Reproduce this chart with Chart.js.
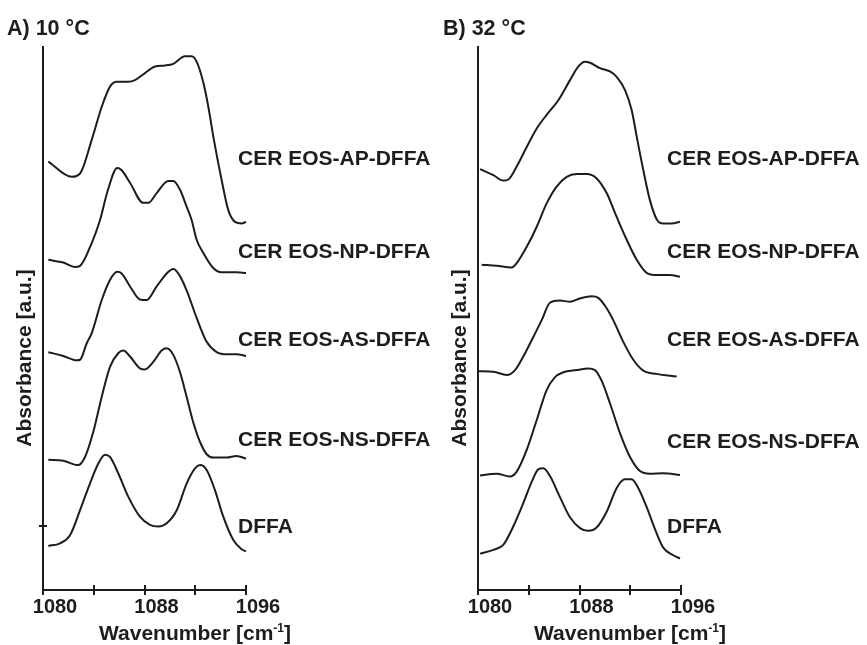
<!DOCTYPE html>
<html lang="en">
<head>
<meta charset="UTF-8">
<title>FTIR CH2 scissoring bands, 10 °C and 32 °C</title>
<script src="https://cdn.jsdelivr.net/npm/chart.js"></script>
<style>
  body { margin: 0; background: #fff; }
  canvas { position: absolute; top: 0; }
  #panelA { left: 0; }
  #panelB { left: 435px; }
</style>
</head>
<body>
<canvas id="panelA" width="440" height="645"></canvas>
<canvas id="panelB" width="432" height="645"></canvas>
<script>
// ---- data (wavenumber cm-1, stacked absorbance in a.u.) ----
const seriesNames = ['CER EOS-AP-DFFA', 'CER EOS-NP-DFFA', 'CER EOS-AS-DFFA', 'CER EOS-NS-DFFA', 'DFFA'];
const xTickValues = [1080, 1084, 1088, 1092, 1096];
const xTickLabels = ['1080', '', '1088', '', '1096'];

// panel A, 10 °C
const apA = [[1080.42,78.9],[1082.26,76.1],[1082.92,76.7],[1083.84,82.9],[1084.63,89.0],[1085.28,92.7],[1085.81,93.6],[1086.72,93.6],[1087.25,93.9],[1088.04,95.2],[1088.83,96.4],[1089.61,96.6],[1090.27,96.9],[1091.19,98.3],[1091.72,98.3],[1092.11,97.3],[1092.63,93.5],[1093.03,89.0],[1093.47,82.9],[1094.08,75.5],[1094.6,70.0],[1095.13,67.8],[1095.66,67.5],[1096,67.8]];
const npA = [[1080.42,60.8],[1081.6,60.3],[1082.52,59.5],[1082.92,59.7],[1083.84,63.9],[1084.49,68.1],[1085.12,73.7],[1085.85,77.7],[1086.2,77.3],[1086.86,75.0],[1087.9,71.3],[1088.3,71.3],[1088.96,73.1],[1089.87,75.3],[1090.27,75.3],[1090.8,73.7],[1091.32,70.6],[1091.72,68.1],[1092.11,64.5],[1092.63,62.1],[1093.42,59.3],[1094.08,58.5],[1095.26,58.5],[1096,58.4]];
const asA = [[1080.42,43.8],[1081.6,43.1],[1082.66,42.3],[1082.92,42.4],[1083.44,45.4],[1083.84,47.3],[1084.63,53.4],[1085.28,57.1],[1085.85,58.6],[1086.2,58.3],[1086.86,55.9],[1087.64,53.5],[1088.17,53.4],[1088.96,55.9],[1089.75,58.3],[1090.27,59.1],[1090.66,58.3],[1091.32,55.2],[1092.11,50.1],[1092.9,45.7],[1093.69,43.8],[1094.48,43.4],[1095.26,43.4],[1096,43.1]];
const nsA = [[1080.42,24.0],[1081.6,23.8],[1082.78,23.0],[1083.31,24.5],[1083.96,29.1],[1084.63,35.6],[1085.28,41.1],[1085.93,43.6],[1086.33,44.1],[1086.86,43.0],[1087.64,40.8],[1088.04,40.6],[1088.69,42.0],[1089.35,44.1],[1089.75,44.5],[1090.27,43.3],[1090.8,40.1],[1091.32,35.6],[1091.84,30.9],[1092.37,27.3],[1092.9,25.0],[1093.42,24.4],[1094.48,24.4],[1095.26,24.7],[1096,24.2]];
const dffaA = [[1080.42,8.1],[1081.34,8.6],[1082.13,10.1],[1082.92,14.7],[1083.7,19.6],[1084.36,23.3],[1084.89,24.9],[1085.28,24.5],[1085.93,21.5],[1086.72,17.2],[1087.64,13.5],[1088.43,12.0],[1089.09,11.7],[1089.75,12.3],[1090.54,14.7],[1091.32,19.6],[1091.98,22.4],[1092.37,23.0],[1092.9,22.1],[1093.55,18.4],[1094.21,13.5],[1095.0,9.2],[1095.66,7.5],[1096,7.1]];

// panel B, 32 °C
const apB = [[1080.16,77.5],[1081.21,76.4],[1081.99,75.4],[1082.39,75.6],[1083.05,78.0],[1083.84,81.6],[1084.63,85.0],[1085.41,87.5],[1086.33,90.2],[1087.25,93.9],[1087.9,96.4],[1088.43,97.3],[1088.83,97.1],[1089.61,96.1],[1090.4,95.5],[1090.93,94.5],[1091.58,92.1],[1092.11,88.4],[1092.51,83.5],[1093.03,77.3],[1093.55,71.8],[1094.08,68.3],[1094.6,67.5],[1095.26,67.5],[1095.92,67.8]];
const npB = [[1080.29,59.9],[1081.47,59.7],[1082.66,59.4],[1083.05,60.2],[1083.84,63.2],[1084.63,66.9],[1085.41,71.2],[1086.2,74.3],[1086.99,76.1],[1087.78,76.6],[1088.57,76.6],[1089.35,75.8],[1090.14,73.1],[1090.93,68.7],[1091.72,64.5],[1092.51,60.8],[1093.29,58.4],[1094.08,58.0],[1095.13,58.0],[1095.92,57.7]];
const asB = [[1080.02,40.3],[1081.21,40.2],[1082.26,39.6],[1082.92,40.5],[1083.57,43.0],[1084.36,46.6],[1085.02,49.7],[1085.67,52.9],[1086.46,53.3],[1087.25,53.1],[1088.04,53.7],[1088.96,54.1],[1089.48,53.8],[1090.14,51.9],[1090.66,49.7],[1091.45,45.7],[1092.24,42.4],[1093.03,40.4],[1094.08,39.8],[1095.66,39.3]];
const nsB = [[1080.16,21.1],[1081.47,21.4],[1082.52,20.9],[1083.05,21.8],[1083.84,25.8],[1084.63,31.3],[1085.41,36.8],[1086.07,39.2],[1086.72,40.1],[1087.78,40.5],[1088.69,40.8],[1089.22,40.5],[1089.75,38.5],[1090.4,34.4],[1091.19,28.9],[1091.98,24.5],[1092.77,21.9],[1093.55,21.4],[1094.6,21.5],[1095.92,21.2]];
const dffaB = [[1080.16,6.7],[1081.21,7.4],[1081.99,8.3],[1082.78,11.7],[1083.57,16.0],[1084.23,19.9],[1084.75,22.2],[1085.15,22.4],[1085.67,21.0],[1086.46,17.1],[1087.25,13.4],[1088.04,11.4],[1088.69,10.9],[1089.35,11.5],[1090.14,14.4],[1090.93,18.8],[1091.58,20.4],[1092.11,20.4],[1092.63,18.8],[1093.29,15.3],[1093.95,11.2],[1094.6,7.8],[1095.39,6.4],[1095.92,5.8]];

// where the curve names sit (x in cm-1, y in a.u.)
const labelLevelsA = [79.4, 62.2, 46.0, 27.6, 11.6];
const labelLevelsB = [79.4, 62.2, 46.0, 27.3, 11.6];
const labelXA = 1095.37;
const labelXB = 1094.9;
const yMarksA = [11.8];   // lone tick on the left axis of panel A
const yMarksB = [];

// ---- drawing ----
const FONT = "'Liberation Sans', Arial, sans-serif";
const INK = '#1d1d1d';
Chart.defaults.font.family = FONT;

// titles, curve names and the ticks that cross the axis
const decor = {
  id: 'decor',
  afterDraw(chart, args, o) {
    const ctx = chart.ctx, xs = chart.scales.x, ys = chart.scales.y, area = chart.chartArea;
    ctx.save();
    ctx.fillStyle = INK;
    ctx.strokeStyle = INK;
    ctx.lineWidth = 2;

    // panel title
    ctx.font = 'bold 21.5px ' + FONT;
    ctx.textAlign = 'left';
    ctx.textBaseline = 'alphabetic';
    ctx.fillText(o.title, o.titleX, 35);

    // upper half of x ticks
    xTickValues.forEach(v => {
      const px = Math.round(xs.getPixelForValue(v));
      ctx.beginPath();
      ctx.moveTo(px, area.bottom - 5);
      ctx.lineTo(px, area.bottom);
      ctx.stroke();
    });
    o.yMarks.forEach(v => {
      const py = Math.round(ys.getPixelForValue(v));
      ctx.beginPath();
      ctx.moveTo(area.left - 4, py);
      ctx.lineTo(area.left + 4, py);
      ctx.stroke();
    });

    // x title with superscript
    ctx.font = 'bold 21px ' + FONT;
    const t1 = 'Wavenumber [cm', sup = '-1', t2 = ']';
    const w1 = ctx.measureText(t1).width, w3 = ctx.measureText(t2).width;
    ctx.font = 'bold 12px ' + FONT;
    const w2 = ctx.measureText(sup).width;
    let tx = area.left + 152 - (w1 + w2 + w3) / 2;
    const ty = 640;
    ctx.font = 'bold 21px ' + FONT;
    ctx.fillText(t1, tx, ty);
    ctx.font = 'bold 12px ' + FONT;
    ctx.fillText(sup, tx + w1, ty - 8);
    ctx.font = 'bold 21px ' + FONT;
    ctx.fillText(t2, tx + w1 + w2, ty);

    // y title
    ctx.save();
    ctx.translate(area.left - 18, 358);
    ctx.rotate(-Math.PI / 2);
    ctx.textAlign = 'center';
    ctx.textBaseline = 'middle';
    ctx.fillText('Absorbance [a.u.]', 0, 0);
    ctx.restore();

    // curve names
    ctx.font = 'bold 21px ' + FONT;
    ctx.textAlign = 'left';
    ctx.textBaseline = 'middle';
    seriesNames.forEach((name, i) => {
      ctx.fillText(name, xs.getPixelForValue(o.labelX), ys.getPixelForValue(o.levels[i]));
    });
    ctx.restore();
  }
};

function makePanel(id, series, padRight, decorOpts) {
  return new Chart(document.getElementById(id), {
    type: 'line',
    data: {
      datasets: series.map((s, i) => ({
        label: seriesNames[i],
        data: s.map(p => ({ x: p[0], y: p[1] })),
        borderColor: INK,
        borderWidth: 2,
        pointRadius: 0,
        fill: false,
        cubicInterpolationMode: 'monotone',
        clip: false
      }))
    },
    options: {
      responsive: false,
      animation: false,
      events: [],
      layout: { padding: { left: 43, right: padRight, top: 47, bottom: 26 } },
      plugins: {
        legend: { display: false },
        tooltip: { enabled: false },
        decor: decorOpts
      },
      scales: {
        x: {
          type: 'linear',
          min: 1080,
          max: 1096,
          afterBuildTicks: scale => { scale.ticks = xTickValues.map(v => ({ value: v })); },
          ticks: {
            callback: v => xTickLabels[xTickValues.indexOf(v)] || '',
            font: { size: 20, weight: 'bold' },
            color: INK,
            labelOffset: 12,
            padding: 0,
            maxRotation: 0,
            autoSkip: false
          },
          grid: { drawOnChartArea: false, tickLength: 5, lineWidth: 2, color: INK },
          border: { width: 2, color: INK }
        },
        y: {
          min: 0,
          max: 100,
          ticks: { display: false },
          grid: { display: false, drawTicks: false },
          border: { width: 2, color: INK }
        }
      }
    },
    plugins: [decor]
  });
}

makePanel('panelA', [apA, npA, asA, nsA, dffaA], 194,
  { title: 'A) 10 °C', titleX: 7, labelX: labelXA, levels: labelLevelsA, yMarks: yMarksA });
makePanel('panelB', [apB, npB, asB, nsB, dffaB], 186,
  { title: 'B) 32 °C', titleX: 8, labelX: labelXB, levels: labelLevelsB, yMarks: yMarksB });
</script>
</body>
</html>
